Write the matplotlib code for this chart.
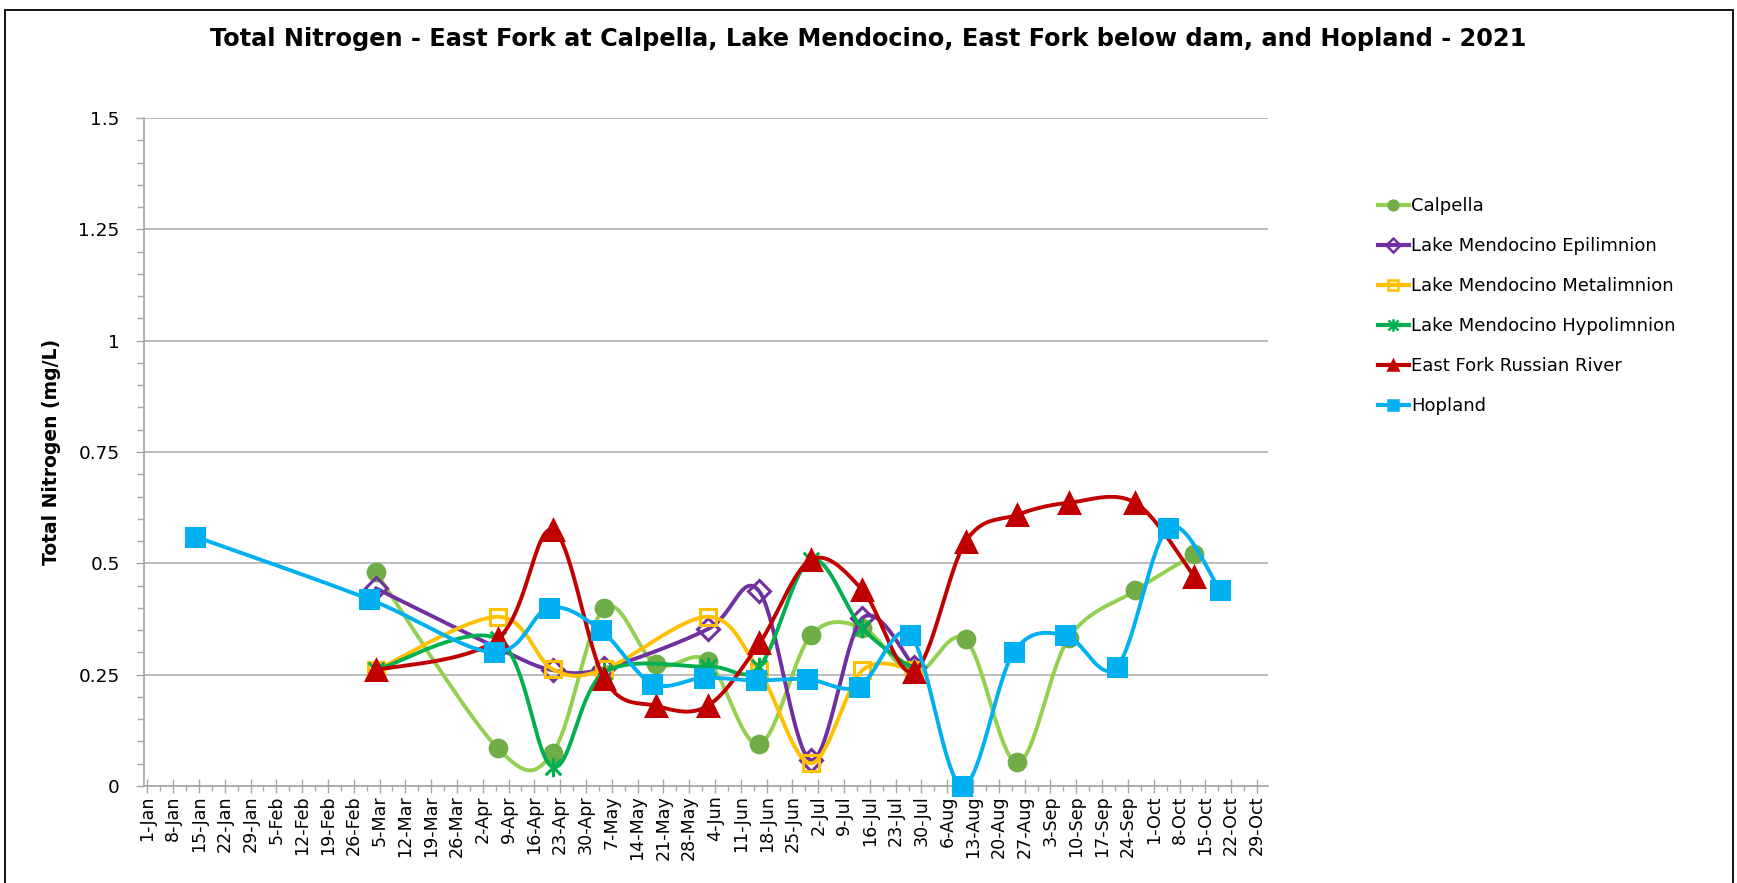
import numpy as np
import pandas as pd
import matplotlib
matplotlib.use('Agg')
import matplotlib.pyplot as plt
from matplotlib.path import Path
from matplotlib.lines import Line2D
from matplotlib.patches import Rectangle

# Sampling dates and total nitrogen values (mg/L).
calpella_dates = ['2021-03-04', '2021-04-06', '2021-04-21', '2021-05-05', '2021-05-19',
                  '2021-06-02', '2021-06-16', '2021-06-30', '2021-07-14', '2021-07-28',
                  '2021-08-11', '2021-08-25', '2021-09-08', '2021-09-26', '2021-10-12']
calpella_tn = [0.48, 0.085, 0.075, 0.40, 0.273, 0.281, 0.094, 0.338, 0.355, 0.253,
               0.329, 0.053, 0.333, 0.439, 0.52]

lake_dates = ['2021-03-04', '2021-04-06', '2021-04-21', '2021-05-05', '2021-06-02',
              '2021-06-16', '2021-06-30', '2021-07-14', '2021-07-28']
epi_tn = [0.444, 0.31, 0.26, 0.264, 0.352, 0.437, 0.058, 0.377, 0.268]
meta_tn = [0.26, 0.38, 0.262, 0.262, 0.38, 0.258, 0.051, 0.26, 0.26]
hypo_tn = [0.26, 0.33, 0.043, 0.255, 0.268, 0.268, 0.508, 0.354, 0.26]

efrr_dates = calpella_dates
efrr_tn = [0.26, 0.33, 0.575, 0.24, 0.18, 0.18, 0.32, 0.508, 0.44, 0.257,
           0.549, 0.609, 0.636, 0.636, 0.47]

hopland_dates = ['2021-01-14', '2021-03-02', '2021-04-05', '2021-04-20', '2021-05-04',
                 '2021-05-18', '2021-06-01', '2021-06-15', '2021-06-29', '2021-07-13',
                 '2021-07-27', '2021-08-10', '2021-08-24', '2021-09-07', '2021-09-21',
                 '2021-10-05', '2021-10-19']
hopland_tn = [0.56, 0.42, 0.30, 0.40, 0.35, 0.23, 0.243, 0.237, 0.24, 0.223,
              0.339, 0.0, 0.30, 0.339, 0.267, 0.58, 0.44]

start = pd.Timestamp('2021-01-01')


def day_of_year(dates):
    return np.array([(pd.Timestamp(d) - start).days for d in dates], dtype=float)


def excel_smooth(x, y, n=40):
    # Excel style smoothed line: cubic Bezier segments with 1/6 tangents.
    p = np.column_stack([x, y])
    p = np.vstack([p[:1], p, p[-1:]])
    t = np.linspace(0, 1, n)[:, None]
    pts = []
    for i in range(1, len(p) - 2):
        a, b = p[i], p[i + 1]
        c1 = a + (b - p[i - 1]) / 6
        c2 = b - (p[i + 2] - a) / 6
        seg = (1 - t) ** 3 * a + 3 * (1 - t) ** 2 * t * c1 + 3 * (1 - t) * t ** 2 * c2 + t ** 3 * b
        pts.append(seg if i == 1 else seg[1:])
    pts = np.vstack(pts)
    return pts[:, 0], pts[:, 1]


# Excel "star" marker: an x with a vertical bar through it.
star = Path([(-1, -1), (1, 1), (-1, 1), (1, -1), (0, -1.25), (0, 1.25)],
            [Path.MOVETO, Path.LINETO, Path.MOVETO, Path.LINETO, Path.MOVETO, Path.LINETO])

series = [
    # label, dates, values, line colour, marker, marker size, face, edge
    ('Calpella', calpella_dates, calpella_tn, '#92D050', 'o', 12, '#70AD47', '#70AD47'),
    ('Lake Mendocino Epilimnion', lake_dates, epi_tn, '#7030A0', 'D', 11, 'none', '#7030A0'),
    ('Lake Mendocino Metalimnion', lake_dates, meta_tn, '#FFC000', 's', 12, 'none', '#FFC000'),
    ('Lake Mendocino Hypolimnion', lake_dates, hypo_tn, '#00B050', star, 14, '#00B050', '#00B050'),
    ('East Fork Russian River', efrr_dates, efrr_tn, '#C00000', '^', 14, '#C00000', '#C00000'),
    ('Hopland', hopland_dates, hopland_tn, '#00B0F0', 's', 13, '#00B0F0', '#00B0F0'),
]

fig = plt.figure(figsize=(17.37, 8.83), dpi=100)
ax = fig.add_axes([144 / 1737, 1 - 786 / 883, (1268 - 144) / 1737, (786 - 118) / 883])

handles = []
for k, (label, dates, vals, col, mk, ms, fc, ec) in enumerate(series):
    x = day_of_year(dates)
    y = np.array(vals)
    sx, sy = excel_smooth(x, y)
    ax.plot(sx, sy, color=col, lw=2.8, zorder=3 + 2 * k, solid_capstyle='round')
    ax.plot(x, y, ls='none', marker=mk, ms=ms, mfc=fc, mec=ec, mew=2.2,
            zorder=4 + 2 * k, clip_on=False)
    hms = 9 if mk is star else 7
    handles.append(Line2D([0], [0], color=col, lw=3, marker=mk, ms=hms, mfc=fc,
                          mec=ec, mew=1.8))

# axes
ax.set_ylim(0, 1.5)
ax.set_xlim(-0.9, 304)
ax.set_yticks(np.arange(0, 1.51, 0.25))
ax.set_yticks(np.arange(0, 1.51, 0.05), minor=True)
ax.yaxis.set_major_formatter(plt.FuncFormatter(lambda v, p: f'{v:g}'))

tick_days = np.arange(0, 302, 7)
tick_dates = [start + pd.Timedelta(days=int(d)) for d in tick_days]
ax.set_xticks(tick_days)
ax.set_xticklabels([f'{d.day}-{d.strftime("%b")}' for d in tick_dates], rotation=90)
ax.set_xticks(tick_days[:-1] + 3.5, minor=True)

grey = '#A6A6A6'
ax.grid(axis='y', which='major', color='#B0B0B0', lw=1.2)
ax.set_axisbelow(True)
for s in ['top', 'right']:
    ax.spines[s].set_visible(False)
for s in ['left', 'bottom']:
    ax.spines[s].set_color(grey)
    ax.spines[s].set_linewidth(1.2)

ax.tick_params(axis='y', which='major', length=5.5, width=1, color=grey,
               labelsize=13.3, pad=12)
ax.tick_params(axis='y', which='minor', length=5, width=1, color=grey)
ax.tick_params(axis='x', which='major', direction='inout', length=9.5, width=1,
               color=grey, labelsize=12.6, pad=2)
ax.tick_params(axis='x', which='minor', direction='out', length=3.5, width=1, color=grey)

fig.text(52 / 1737, 1 - 452 / 883, 'Total Nitrogen (mg/L)', rotation=90,
         ha='center', va='center', fontsize=13.5, fontweight='bold')

fig.text(0.5, 1 - 39 / 883,
         'Total Nitrogen - East Fork at Calpella, Lake Mendocino, East Fork below dam, and Hopland - 2021',
         ha='center', va='center', fontsize=17.3, fontweight='bold')

fig.legend(handles, [s[0] for s in series], loc='upper left',
           bbox_to_anchor=(1378 / 1737, 1 - 197 / 883), frameon=False,
           fontsize=13, handlelength=1.7, handletextpad=0.15, labelspacing=1.22,
           borderpad=0, borderaxespad=0)

# outer chart border
fig.patches.append(Rectangle((5 / 1737, -0.1), (1733 - 5) / 1737, 1.1 - 10 / 883,
                             transform=fig.transFigure, fill=False,
                             ec='black', lw=1.3))

fig.savefig('out.png', dpi=100)
